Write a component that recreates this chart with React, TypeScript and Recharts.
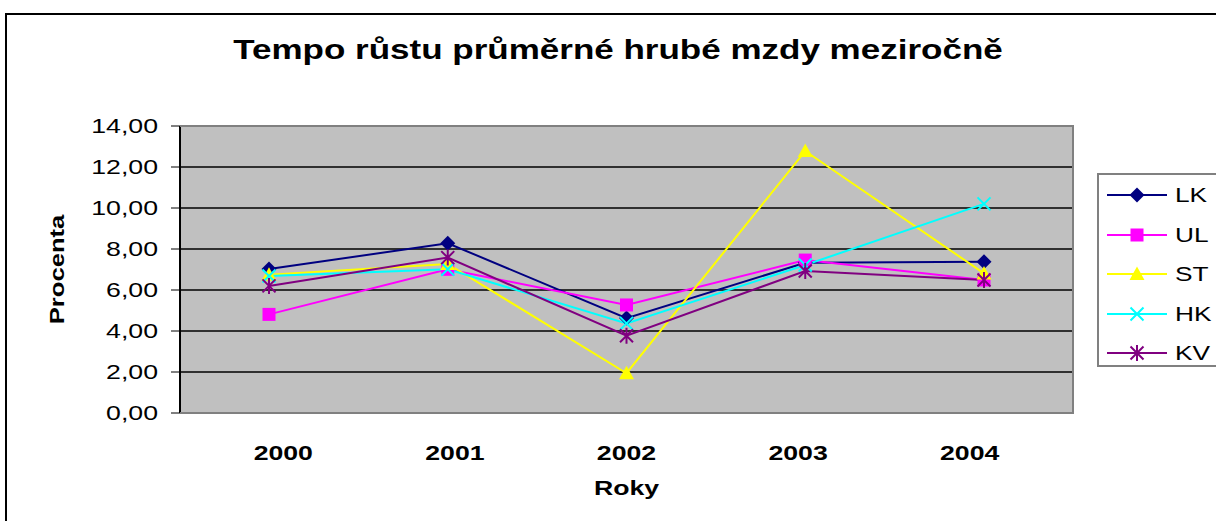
import React from 'react';
import { LineChart, Line, XAxis, YAxis, CartesianGrid } from 'recharts';

const years = ['2000', '2001', '2002', '2003', '2004'];
const lk = [7.02, 8.28, 4.63, 7.33, 7.38];
const ul = [4.81, 7.01, 5.27, 7.46, 6.49];
const st = [6.75, 7.27, 1.94, 12.78, 6.81];
const hk = [6.68, 7.01, 4.37, 7.22, 10.2];
const kv = [6.2, 7.58, 3.77, 6.93, 6.49];
const yTicks = [0, 2, 4, 6, 8, 10, 12, 14];

const data = years.map((y, i) => ({ year: y, LK: lk[i], UL: ul[i], ST: st[i], HK: hk[i], KV: kv[i] }));

const FONT = '"Liberation Sans", Arial, sans-serif';
// the source chart was stretched sideways, so every text is widened a bit
const STRETCH = 1.27;
const PLOT_MID = 626;

type Shape = 'diamond' | 'square' | 'triangle' | 'x' | 'star';

const series: { key: string; color: string; shape: Shape }[] = [
  { key: 'LK', color: '#000080', shape: 'diamond' },
  { key: 'UL', color: '#FF00FF', shape: 'square' },
  { key: 'ST', color: '#FFFF00', shape: 'triangle' },
  { key: 'HK', color: '#00FFFF', shape: 'x' },
  { key: 'KV', color: '#800080', shape: 'star' },
];

function marker(shape: Shape, color: string, cx: number, cy: number, key?: string) {
  switch (shape) {
    case 'diamond':
      return <path key={key} d={`M${cx},${cy - 7.5}L${cx + 7.5},${cy}L${cx},${cy + 7.5}L${cx - 7.5},${cy}Z`} fill={color} />;
    case 'square':
      return <rect key={key} x={cx - 6.5} y={cy - 6.5} width={13} height={13} fill={color} />;
    case 'triangle':
      return <path key={key} d={`M${cx},${cy - 7.5}L${cx + 7.5},${cy + 6}L${cx - 7.5},${cy + 6}Z`} fill={color} />;
    case 'x':
      return (
        <path key={key} d={`M${cx - 6.5},${cy - 6.5}L${cx + 6.5},${cy + 6.5}M${cx - 6.5},${cy + 6.5}L${cx + 6.5},${cy - 6.5}`} stroke={color} strokeWidth={2} fill="none" />
      );
    default:
      return (
        <path
          key={key}
          d={`M${cx - 6.5},${cy - 6.5}L${cx + 6.5},${cy + 6.5}M${cx - 6.5},${cy + 6.5}L${cx + 6.5},${cy - 6.5}M${cx},${cy - 8}L${cx},${cy + 8}`}
          stroke={color}
          strokeWidth={2}
          fill="none"
        />
      );
  }
}

const fmt = (v: number) => v.toFixed(2).replace('.', ',');

function YearTick(p: any) {
  const { x, y, payload } = p;
  // Excel squeezed the category labels a little toward the middle
  const lx = PLOT_MID + (x - PLOT_MID) * 0.96;
  return (
    <text
      transform={`translate(${lx} ${y + 15}) scale(${STRETCH} 1)`}
      textAnchor="middle"
      fontSize={21}
      fontWeight="bold"
      fontFamily={FONT}
      fill="#000"
    >
      {payload.value}
    </text>
  );
}

function ValueTick(p: any) {
  const { x, y, payload } = p;
  return (
    <text
      transform={`translate(${x} ${y}) scale(${STRETCH} 1)`}
      textAnchor="end"
      dy="0.355em"
      fontSize={21}
      fontFamily={FONT}
      fill="#000"
    >
      {fmt(payload.value)}
    </text>
  );
}

export default function App() {
  return (
    <div style={{ position: 'absolute', left: 0, top: 0, width: 1216, height: 521, overflow: 'hidden', background: '#fff', fontFamily: FONT }}>
      <div style={{ position: 'absolute', left: 5, top: 13, width: 1240, height: 540, border: '2px solid #000', boxSizing: 'border-box' }} />
      <div
        style={{
          position: 'absolute',
          left: 0,
          top: 34,
          width: 1236,
          textAlign: 'center',
          fontSize: 28,
          fontWeight: 'bold',
          color: '#000',
          transform: 'scaleX(1.25)',
          transformOrigin: '618px 0',
        }}
      >
        Tempo růstu průměrné hrubé mzdy meziročně
      </div>
      <div style={{ position: 'absolute', left: 0, top: 0 }}>
        <LineChart width={1216} height={521} data={data} margin={{ top: 126, right: 143, bottom: 0, left: 0 }}>
          <CartesianGrid vertical={false} stroke="#000" strokeWidth={1.3} fill="#C0C0C0" fillOpacity={1} />
          <XAxis
            dataKey="year"
            padding={{ left: 89, right: 89 }}
            height={108}
            axisLine={false}
            tickLine={false}
            tickSize={0}
            tickMargin={32}
            tick={<YearTick />}
            label={{
              content: (p: any) => {
                const vb = p.viewBox;
                const cx = vb.x + vb.width / 2;
                return (
                  <text
                    transform={`translate(${cx} 495) scale(${STRETCH} 1)`}
                    textAnchor="middle"
                    fontSize={21}
                    fontWeight="bold"
                    fontFamily={FONT}
                    fill="#000"
                  >
                    Roky
                  </text>
                );
              },
            }}
          />
          <YAxis
            width={180}
            domain={[0, 14]}
            ticks={yTicks}
            interval={0}
            axisLine={{ stroke: '#000', strokeWidth: 2 }}
            tickLine={{ stroke: '#000' }}
            tickSize={9}
            tickMargin={13}
            tick={<ValueTick />}
            label={{
              content: (p: any) => {
                const vb = p.viewBox;
                const cy = vb.y + vb.height / 2;
                return (
                  <text
                    transform={`translate(64 ${cy}) rotate(-90) scale(1.22 1)`}
                    textAnchor="middle"
                    fontSize={21}
                    fontWeight="bold"
                    fontFamily={FONT}
                    fill="#000"
                  >
                    Procenta
                  </text>
                );
              },
            }}
          />
          {series.map((s) => (
            <Line
              key={s.key}
              dataKey={s.key}
              stroke={s.color}
              strokeWidth={2}
              isAnimationActive={false}
              dot={(p: any) => marker(s.shape, s.color, p.cx, p.cy, `${s.key}-${p.index}`)}
              activeDot={false}
            />
          ))}
        </LineChart>
      </div>
      {/* plot-area frame */}
      <div
        style={{
          position: 'absolute',
          left: 180,
          top: 125,
          width: 894,
          height: 289,
          borderTop: '2px solid #808080',
          borderRight: '2px solid #808080',
          borderBottom: '2px solid #808080',
          boxSizing: 'border-box',
          pointerEvents: 'none',
        }}
      />
      <div
        style={{
          position: 'absolute',
          left: 1097,
          top: 173,
          width: 140,
          height: 194,
          border: '2px solid #808080',
          boxSizing: 'border-box',
          background: '#fff',
        }}
      >
        {series.map((s, i) => (
          <div key={s.key} style={{ position: 'absolute', left: 8, top: 5 + i * 39.5, height: 30, display: 'flex', alignItems: 'center' }}>
            <svg width={62} height={30}>
              <line x1={0} y1={15} x2={60} y2={15} stroke={s.color} strokeWidth={2} />
              {marker(s.shape, s.color, 30, 15)}
            </svg>
            <span style={{ fontSize: 21, marginLeft: 6, color: '#000', display: 'inline-block', transform: 'scaleX(1.25)', transformOrigin: '0 50%' }}>
              {s.key}
            </span>
          </div>
        ))}
      </div>
    </div>
  );
}
